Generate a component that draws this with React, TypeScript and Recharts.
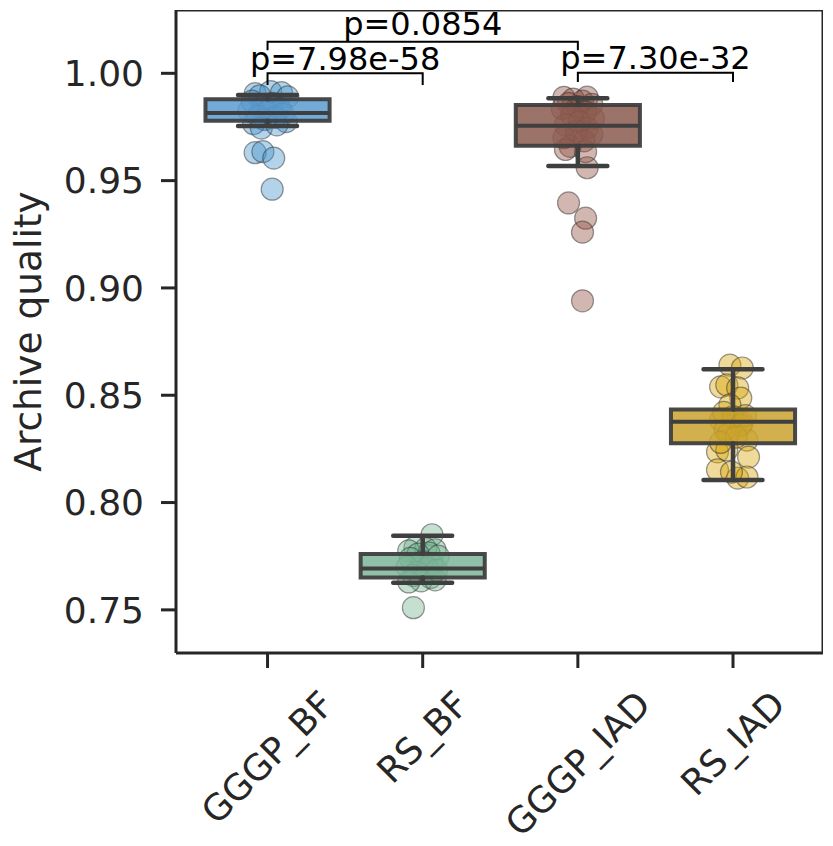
import { ComposedChart, Scatter, XAxis, YAxis } from 'recharts';

const categories = ['GGGP_BF', 'RS_BF', 'GGGP_IAD', 'RS_IAD'];
const boxFill = ['#5b9bd0', '#7db599', '#8b5a4f', '#c9a22e'];
const pointFill = ['#4191ca', '#6eb18c', '#8e4a3d', '#d7a200'];

// box statistics
const q1 = [0.9779, 0.7651, 0.9663, 0.8276];
const median = [0.9815, 0.7693, 0.9756, 0.8377];
const q3 = [0.9879, 0.776, 0.9852, 0.8434];
const whiskerLow = [0.9754, 0.7626, 0.9568, 0.8105];
const whiskerHigh = [0.9899, 0.7845, 0.9884, 0.8621];

// strip points: [jitter, value]
const gggpBfPoints = [
  [-0.08, 0.9905], [0.02, 0.9915], [0.09, 0.991], [-0.05, 0.9895], [0.13, 0.989], [-0.1, 0.987],
  [0.03, 0.986], [-0.03, 0.9845], [0.08, 0.9835], [-0.12, 0.9825], [0.0, 0.982], [0.1, 0.981],
  [-0.06, 0.98], [0.05, 0.9795], [-0.02, 0.9785], [0.12, 0.9775], [-0.09, 0.9765], [-0.04, 0.9745],
  [0.06, 0.976], [-0.08, 0.963], [-0.03, 0.9635], [0.04, 0.9605], [0.03, 0.946],
];
const rsBfPoints = [
  [0.06, 0.785], [-0.05, 0.779], [0.02, 0.7785], [0.08, 0.778], [-0.09, 0.7775], [0.04, 0.7765],
  [-0.03, 0.776], [0.1, 0.775], [-0.08, 0.774], [0.0, 0.7725], [0.06, 0.7715], [-0.1, 0.77],
  [0.03, 0.7695], [0.09, 0.7685], [-0.04, 0.7675], [-0.06, 0.766], [0.05, 0.765], [-0.01, 0.7635],
  [0.08, 0.764], [-0.09, 0.763], [-0.06, 0.751],
];
const gggpIadPoints = [
  [-0.09, 0.9888], [0.06, 0.9889], [-0.03, 0.988], [0.03, 0.987], [-0.06, 0.986], [0.09, 0.9855],
  [0.0, 0.9845], [-0.1, 0.9835], [0.05, 0.982], [-0.04, 0.9805], [0.1, 0.979], [0.01, 0.9775],
  [-0.08, 0.976], [0.06, 0.9745], [-0.01, 0.973], [0.09, 0.9715], [-0.09, 0.97], [0.04, 0.9685],
  [-0.05, 0.966], [-0.08, 0.9645], [0.05, 0.9635], [0.06, 0.956], [-0.06, 0.9396], [0.05, 0.9325],
  [0.03, 0.926], [0.03, 0.894],
];
const rsIadPoints = [
  [-0.02, 0.864], [0.06, 0.8627], [-0.08, 0.8539], [-0.04, 0.8548], [0.03, 0.8534], [0.05, 0.8487],
  [-0.02, 0.8455], [-0.08, 0.8385], [0.06, 0.8371], [-0.05, 0.8338], [0.09, 0.8291], [-0.1, 0.8236],
  [-0.04, 0.8245], [0.1, 0.8212], [-0.1, 0.8152], [0.03, 0.8114], [0.09, 0.8119], [-0.01, 0.8142],
  [0.0, 0.84], [0.05, 0.836], [-0.06, 0.842], [0.08, 0.8405], [-0.03, 0.832], [0.02, 0.8305],
  [-0.08, 0.828],
];
const groupPoints = [gggpBfPoints, rsBfPoints, gggpIadPoints, rsIadPoints];

// significance brackets
const bracketFrom = [0, 0, 2];
const bracketTo = [1, 2, 3];
const bracketTop = [1.0, 1.0147, 1.0003];
const bracketFoot = [0.9945, 1.0108, 0.9959];
const pLabels = ['p=7.98e-58', 'p=0.0854', 'p=7.30e-32'];
const pLabelY = [1.0015, 1.0179, 1.0019];

const yTicks = [0.75, 0.8, 0.85, 0.9, 0.95, 1.0];

const FONT = '"DejaVu Sans", sans-serif';
const INK = '#262626';
const EDGE = '#3f3f3f';
const X_DOMAIN = [-0.59, 3.58];
const Y_DOMAIN = [0.7299, 1.0295];

const BOX_HALF = 0.4;
const CAP_HALF = 0.19;

let measureCtx: CanvasRenderingContext2D | null = null;
function textWidth(text: string, size: number) {
  if (!measureCtx) measureCtx = document.createElement('canvas').getContext('2d');
  if (!measureCtx) return text.length * size * 0.6;
  measureCtx.font = `${size}px "DejaVu Sans"`;
  return measureCtx.measureText(text).width;
}

function CategoryTick(props: any) {
  const { x, y, payload } = props;
  const label = categories[payload.value] ?? '';
  const size = 36;
  const w = textWidth(label, size);
  const side = (w + size * 1.164) * Math.SQRT1_2;
  const cy = y + side / 2;
  return (
    <text
      x={x}
      y={cy}
      textAnchor="middle"
      dominantBaseline="central"
      transform={`rotate(-45, ${x}, ${cy})`}
      fill={INK}
      fontSize={size}
      fontFamily={FONT}
    >
      {label}
    </text>
  );
}

function YTitle(props: any) {
  const vb = props.viewBox || { x: 0, y: 0, width: 0, height: 0 };
  const cx = vb.x + 28;
  const cy = vb.y + vb.height / 2;
  return (
    <text
      x={cx}
      y={cy}
      textAnchor="middle"
      dominantBaseline="central"
      transform={`rotate(-90, ${cx}, ${cy})`}
      fill={INK}
      fontSize={37.5}
      fontFamily={FONT}
    >
      Archive quality
    </text>
  );
}

const Dot = (color: string) => (props: any) => (
  <circle
    cx={props.cx}
    cy={props.cy}
    r={11}
    fill={color}
    fillOpacity={0.4}
    stroke="#333"
    strokeOpacity={0.5}
    strokeWidth={1.2}
  />
);

const NoDot = () => <g />;

const PText = (props: any) => (
  <text x={props.cx} y={props.cy} textAnchor="middle" fill="#000" fontSize={32} fontFamily={FONT}>
    {props.payload.label}
  </text>
);

export default function App() {
  // polyline through data points, placed by the chart's own scales
  const seg = (key: string, pts: number[][], style: any) => (
    <Scatter
      key={key}
      data={pts.map(([x, y]) => ({ x, y }))}
      line={style}
      shape={NoDot}
      isAnimationActive={false}
    />
  );

  return (
    <div style={{ position: 'absolute', left: 0, top: 0, background: '#fff' }}>
      <ComposedChart width={833} height={846} margin={{ top: 10, right: 10, bottom: 0, left: 0 }}>
        <XAxis
          type="number"
          dataKey="x"
          domain={X_DOMAIN}
          ticks={[0, 1, 2, 3]}
          allowDataOverflow
          height={193}
          axisLine={{ stroke: INK, strokeWidth: 3 }}
          tickLine={{ stroke: INK, strokeWidth: 3 }}
          tickSize={15}
          tickMargin={15}
          tick={<CategoryTick />}
          interval={0}
        />
        <YAxis
          type="number"
          dataKey="y"
          domain={Y_DOMAIN}
          ticks={yTicks}
          allowDataOverflow
          width={176}
          axisLine={{ stroke: INK, strokeWidth: 3 }}
          tickLine={{ stroke: INK, strokeWidth: 3 }}
          tickSize={15}
          tickMargin={17}
          tick={{ fill: INK, fontSize: 36, fontFamily: FONT }}
          tickFormatter={(v: number) => v.toFixed(2)}
          label={<YTitle />}
        />

        {groupPoints.map((pts, i) => (
          <Scatter
            key={`pts-${i}`}
            data={pts.map(([j, v]) => ({ x: i + j, y: v }))}
            shape={Dot(pointFill[i])}
            isAnimationActive={false}
          />
        ))}

        {categories.map((_, i) =>
          seg(
            `box-${i}`,
            [
              [i - BOX_HALF, q1[i]],
              [i - BOX_HALF, q3[i]],
              [i + BOX_HALF, q3[i]],
              [i + BOX_HALF, q1[i]],
              [i - BOX_HALF, q1[i]],
              [i - BOX_HALF, q3[i]],
            ],
            { stroke: EDGE, strokeOpacity: 0.95, strokeWidth: 4, fill: boxFill[i], fillOpacity: 0.85 }
          )
        )}
        {categories.map((_, i) =>
          seg(
            `med-${i}`,
            [
              [i - BOX_HALF, median[i]],
              [i + BOX_HALF, median[i]],
            ],
            { stroke: EDGE, strokeWidth: 4 }
          )
        )}
        {categories.map((_, i) =>
          seg(
            `wh-up-${i}`,
            [
              [i - CAP_HALF, whiskerHigh[i]],
              [i + CAP_HALF, whiskerHigh[i]],
              [i, whiskerHigh[i]],
              [i, q3[i]],
            ],
            { stroke: EDGE, strokeWidth: 4.5, strokeLinecap: 'round', strokeLinejoin: 'round' }
          )
        )}
        {categories.map((_, i) =>
          seg(
            `wh-lo-${i}`,
            [
              [i - CAP_HALF, whiskerLow[i]],
              [i + CAP_HALF, whiskerLow[i]],
              [i, whiskerLow[i]],
              [i, q1[i]],
            ],
            { stroke: EDGE, strokeWidth: 4.5, strokeLinecap: 'round', strokeLinejoin: 'round' }
          )
        )}

        {pLabels.map((_, k) =>
          seg(
            `br-${k}`,
            [
              [bracketFrom[k], bracketFoot[k]],
              [bracketFrom[k], bracketTop[k]],
              [bracketTo[k], bracketTop[k]],
              [bracketTo[k], bracketFoot[k]],
            ],
            { stroke: '#000', strokeWidth: 2 }
          )
        )}
        <Scatter
          data={pLabels.map((label, k) => ({
            x: (bracketFrom[k] + bracketTo[k]) / 2,
            y: pLabelY[k],
            label,
          }))}
          shape={PText}
          isAnimationActive={false}
        />

        {/* top and right frame lines */}
        {seg(
          'frame',
          [
            [X_DOMAIN[0], Y_DOMAIN[1]],
            [X_DOMAIN[1], Y_DOMAIN[1]],
            [X_DOMAIN[1], Y_DOMAIN[0]],
          ],
          { stroke: INK, strokeWidth: 3, strokeLinecap: 'square' }
        )}
      </ComposedChart>
    </div>
  );
}
